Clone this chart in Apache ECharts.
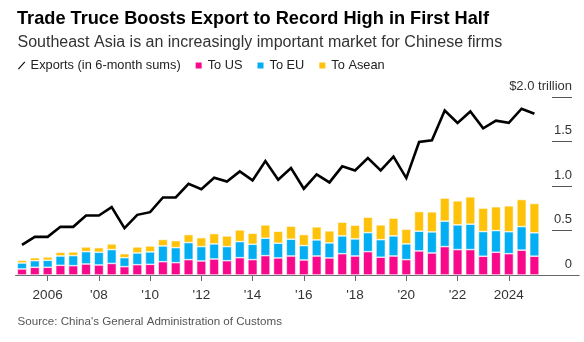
<!DOCTYPE html>
<html><head><meta charset="utf-8">
<script src="https://cdn.jsdelivr.net/npm/echarts@6/dist/echarts.min.js"></script>
<style>html,body{margin:0;padding:0;background:#fff}#c{width:584px;height:342px}</style>
</head><body><div id="c"></div>
<script>
// Half-year periods
const periods = ['2005-H1','2005-H2','2006-H1','2006-H2','2007-H1','2007-H2','2008-H1','2008-H2','2009-H1','2009-H2',
  '2010-H1','2010-H2','2011-H1','2011-H2','2012-H1','2012-H2','2013-H1','2013-H2','2014-H1','2014-H2',
  '2015-H1','2015-H2','2016-H1','2016-H2','2017-H1','2017-H2','2018-H1','2018-H2','2019-H1','2019-H2',
  '2020-H1','2020-H2','2021-H1','2021-H2','2022-H1','2022-H2','2023-H1','2023-H2','2024-H1','2024-H2','2025-H1'];
// $ trillion, 6-month sums
const exportsTotal = [0.339,0.429,0.429,0.542,0.542,0.670,0.670,0.764,0.527,0.677,
  0.707,0.873,0.873,1.027,0.965,1.095,1.053,1.166,1.065,1.283,
  1.072,1.204,0.971,1.132,1.042,1.223,1.177,1.317,1.177,1.332,
  1.091,1.497,1.516,1.851,1.712,1.840,1.651,1.737,1.712,1.872,1.815];
const toUS = [0.068,0.087,0.087,0.109,0.105,0.124,0.113,0.130,0.094,0.116,
  0.120,0.150,0.139,0.173,0.158,0.180,0.161,0.195,0.173,0.218,
  0.192,0.214,0.169,0.214,0.192,0.240,0.214,0.263,0.200,0.214,
  0.173,0.271,0.248,0.320,0.286,0.286,0.211,0.256,0.240,0.280,0.212];
const toEU = [0.067,0.074,0.079,0.105,0.113,0.139,0.143,0.156,0.101,0.132,
  0.140,0.177,0.169,0.192,0.162,0.170,0.159,0.181,0.173,0.196,
  0.166,0.189,0.162,0.181,0.169,0.200,0.192,0.214,0.198,0.226,
  0.177,0.222,0.237,0.286,0.278,0.286,0.278,0.244,0.247,0.265,0.263];
const toAsean = [0.031,0.034,0.037,0.042,0.042,0.053,0.052,0.064,0.045,0.068,
  0.067,0.073,0.079,0.090,0.100,0.116,0.120,0.132,0.124,0.150,
  0.135,0.147,0.124,0.147,0.136,0.155,0.155,0.174,0.166,0.200,
  0.166,0.221,0.226,0.260,0.271,0.308,0.264,0.268,0.292,0.305,0.330];
const xTickPeriods = ['2006-H1','2008-H1','2010-H1','2012-H1','2014-H1','2016-H1','2018-H1','2020-H1','2022-H1','2024-H1'];
const xTickLabels = ['2006',"'08","'10","'12","'14","'16","'18","'20","'22",'2024'];
const yTickValues = [0,0.5,1,1.5,2];
const yTickLabels = ['0','0.5','1.0','1.5','$2.0 trillion'];
const seriesNames = ['Exports (in 6-month sums)','To US','To EU','To Asean'];

const isTick = (i, v) => xTickPeriods.indexOf(v) >= 0;

const FONT = '"Liberation Sans", Arial, sans-serif';
const COLORS = {us:'#F8098C', eu:'#03AEF3', asean:'#FFC20A'};
const chart = echarts.init(document.getElementById('c'), null, {renderer:'canvas'});
const barCommon = {type:'bar', stack:'total', barWidth:9.4, xAxisIndex:0, yAxisIndex:0};
const border = {borderColor:'#fff', borderWidth:0.6};
const TOP = 97.3, BOTTOM = 67, LEFT = 15.6;
const bandPx = 12.81;
chart.setOption({
  animation:false,
  backgroundColor:'#fff',
  textStyle:{fontFamily:FONT},
  title:[
    {text:'Trade Truce Boosts Export to Record High in First Half', left:17, top:9.5, padding:0,
     textStyle:{fontFamily:FONT, fontSize:18.2, fontWeight:'bold', color:'#000'}},
    {text:'Southeast Asia is an increasingly important market for Chinese firms', left:17.5, top:35, padding:0,
     textStyle:{fontFamily:FONT, fontSize:16, fontWeight:'normal', color:'#333'}},
    {text:"Source: China's General Administration of Customs", left:17.5, top:316, padding:0,
     textStyle:{fontFamily:FONT, fontSize:11.6, fontWeight:'normal', color:'#555'}}
  ],
  legend:{left:18, top:59, padding:0, itemWidth:8, itemHeight:8, itemGap:13,
    textStyle:{fontFamily:FONT, fontSize:12.8, color:'#222'},
    data:[
      {name:seriesNames[0], icon:'path://M0,9L8,0L9,1L1,10Z'},
      {name:seriesNames[1], icon:'rect'},
      {name:seriesNames[2], icon:'rect'},
      {name:seriesNames[3], icon:'rect'}
    ]},
  grid:[
    {left:LEFT, width:bandPx * periods.length, top:TOP, bottom:BOTTOM},
    {left:LEFT, right:4.8, top:TOP, bottom:BOTTOM},
    {left:552, right:12, top:TOP, bottom:BOTTOM}
  ],
  xAxis:[
    {type:'category', gridIndex:0, data:periods, boundaryGap:true,
     axisLine:{show:false},
     axisTick:{show:true, length:6, alignWithLabel:true, interval:isTick, lineStyle:{color:'#666'}},
     axisLabel:{interval:isTick, margin:13.5, fontSize:13.5, color:'#333', fontFamily:FONT,
       formatter:v => xTickLabels[xTickPeriods.indexOf(v)]},
     splitLine:{show:false}},
    {type:'value', gridIndex:1, min:0, max:1,
     axisLine:{show:true, lineStyle:{color:'#666', width:1}},
     axisTick:{show:false}, axisLabel:{show:false}, splitLine:{show:false}},
    {type:'value', gridIndex:2, min:0, max:1, show:false}
  ],
  yAxis:[
    {type:'value', gridIndex:0, min:0, max:2, interval:0.5, show:false},
    {type:'value', gridIndex:1, min:0, max:2, interval:0.5, show:false},
    {type:'value', gridIndex:2, position:'right', min:0, max:2, interval:0.5,
     axisLine:{show:false}, axisTick:{show:false},
     axisLabel:{inside:true, margin:0, fontSize:13, color:'#333', fontFamily:FONT,
       verticalAlign:'bottom', padding:[0,0,4.5,0],
       formatter:v => yTickLabels[yTickValues.indexOf(v)]},
     splitLine:{show:true, lineStyle:{color:'#555', width:1}}}
  ],
  series:[
    Object.assign({}, barCommon, {name:seriesNames[1], data:toUS, itemStyle:Object.assign({color:COLORS.us}, border)}),
    Object.assign({}, barCommon, {name:seriesNames[2], data:toEU, itemStyle:Object.assign({color:COLORS.eu}, border)}),
    Object.assign({}, barCommon, {name:seriesNames[3], data:toAsean, itemStyle:Object.assign({color:COLORS.asean}, border)}),
    {name:seriesNames[0], type:'line', xAxisIndex:0, yAxisIndex:0, data:exportsTotal, symbol:'none', z:5,
     lineStyle:{color:'#000', width:2.6, join:'miter'}, itemStyle:{color:'#000'}}
  ]
});
</script></body></html>
